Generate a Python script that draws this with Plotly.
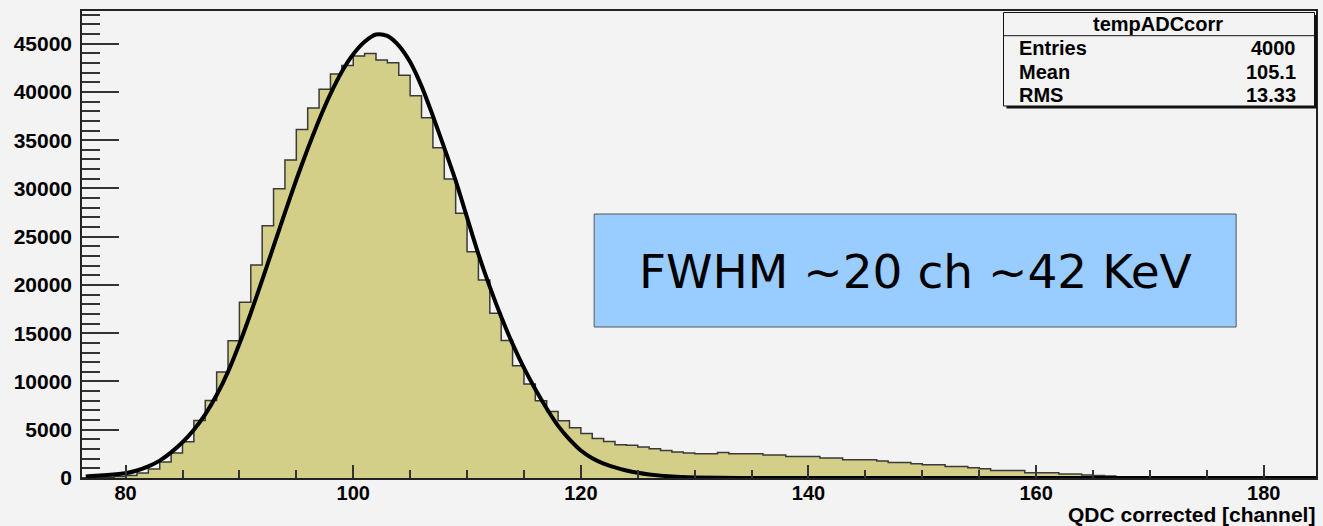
import plotly.graph_objects as go

# ---------------- data ----------------
channels = list(range(76, 167))          # lower bin edges, bin width 1 channel
counts = [20, 40, 80, 150, 270, 520, 930, 1650, 2590, 3760,
          5960, 8030, 10970, 14220, 18220, 22060, 26130, 29980, 32940, 36120,
          38330, 40290, 41860, 42730, 43720, 43990, 43300, 43020, 41740, 39600,
          37320, 34220, 30980, 27430, 23450, 20520, 17080, 14240, 11620, 9730,
          8000, 6890, 5940, 5200, 4600, 4090, 3770, 3450, 3400, 3200,
          3030, 2860, 2700, 2590, 2510, 2510, 2650, 2510, 2510, 2510,
          2380, 2380, 2240, 2240, 2240, 2070, 2070, 1890, 1890, 1890,
          1770, 1615, 1615, 1480, 1380, 1380, 1200, 1200, 1070, 960,
          790, 790, 790, 550, 550, 550, 410, 410, 300, 250, 200]
last_edge = 167

fit_x = [76.5, 78, 80, 81, 82, 83, 84, 85, 86, 87, 88, 89, 90, 91, 92, 93, 94, 95,
         96, 97, 98, 99, 100, 101, 102, 103, 104, 105, 106, 107, 108, 109, 110,
         111, 112, 113, 114, 115, 116, 117, 118, 119, 120, 121, 122, 123, 124,
         125, 126, 128, 130, 134, 140, 184.6]
fit_y = [150, 280, 500, 780, 1200, 1800, 2650, 3700, 5000, 6600, 8600, 11000, 13900,
         17100, 20500, 24000, 27500, 30900, 34100, 37100, 39800, 42100, 43900,
         45200, 45950, 45800, 44800, 43100, 40600, 37500, 34200, 30800, 27000,
         23200, 19800, 16700, 13900, 11400, 9200, 7200, 5400, 4000, 2850, 2050,
         1500, 1100, 780, 540, 370, 150, 60, 10, 0, 0]

stats_title = "tempADCcorr"
stats_labels = ["Entries", "Mean", "RMS"]
stats_values = ["4000", "105.1", "13.33"]
note_text = "FWHM ~20 ch ~42 KeV"
x_title = "QDC corrected [channel]"

# ---------------- figure ----------------
BG = "#f3f3f3"
FILL = "#d3cf88"
W, H = 1323, 526
L, R, T, B = 82, 5, 11, 48
PW, PH = W - L - R, H - T - B


def px_x(x):
    return (x - L) / PW


def px_y(y):
    return (H - B - y) / PH


fig = go.Figure()

fig.add_trace(go.Scatter(
    x=channels + [last_edge], y=counts + [0],
    mode="lines", line=dict(shape="hv", color="#3a3a3a", width=1.5),
    fill="tozeroy", fillcolor=FILL, hoverinfo="skip", showlegend=False))

fig.add_trace(go.Scatter(
    x=fit_x, y=fit_y, mode="lines",
    line=dict(shape="spline", smoothing=0.8, color="black", width=4),
    hoverinfo="skip", showlegend=False))

xtickfont = dict(family="Liberation Sans", size=20, color="black", weight="bold")
ytickfont = dict(family="Liberation Sans", size=21, color="black", weight="bold")

fig.update_layout(
    width=W, height=H,
    margin=dict(l=L, r=R, t=T, b=B, pad=0),
    paper_bgcolor=BG, plot_bgcolor=BG,
    showlegend=False,
    xaxis=dict(range=[76.17, 184.59], showgrid=False, zeroline=False,
               showline=True, linecolor="#222", linewidth=2, mirror=True,
               ticks="inside", ticklen=13, tickwidth=1.5, tickcolor="#333",
               tick0=80, dtick=20, tickfont=xtickfont, ticklabelstandoff=-4,
               minor=dict(ticks="inside", ticklen=8, dtick=5, tickwidth=1.5,
                          tickcolor="#333", showgrid=False)),
    yaxis=dict(range=[0, 48385], showgrid=False, zeroline=False,
               showline=True, linecolor="#222", linewidth=1.5, mirror=True,
               ticks="inside", ticklen=37, tickwidth=1.5, tickcolor="#333",
               tick0=0, dtick=5000, tickformat="d", tickfont=ytickfont,
               ticklabelstandoff=4,
               minor=dict(ticks="inside", ticklen=18, dtick=1000, tickwidth=1.5,
                          tickcolor="#333", showgrid=False)),
)

shapes = []
# FWHM box
shapes.append(dict(type="rect", xref="paper", yref="paper",
                   x0=px_x(595), x1=px_x(1238), y0=px_y(327), y1=px_y(214),
                   fillcolor="#99ccff", line=dict(color="#555", width=1)))
# stats box shadow + box
shapes.append(dict(type="rect", xref="paper", yref="paper",
                   x0=px_x(1008), x1=px_x(1319), y0=px_y(108.5), y1=px_y(15),
                   fillcolor="#111", line=dict(width=0)))
shapes.append(dict(type="rect", xref="paper", yref="paper",
                   x0=px_x(1005), x1=px_x(1316.5), y0=px_y(106), y1=px_y(12.5),
                   fillcolor=BG, line=dict(color="#111", width=1)))
shapes.append(dict(type="line", xref="paper", yref="paper",
                   x0=px_x(1005), x1=px_x(1316.5), y0=px_y(35.7), y1=px_y(35.7),
                   line=dict(color="#111", width=1)))
fig.update_layout(shapes=shapes)

sfont = dict(family="Liberation Sans", size=20, color="black", weight="bold")
ann = []
ann.append(dict(text=stats_title, xref="paper", yref="paper", x=px_x(1160), y=px_y(24),
                xanchor="center", yanchor="middle", showarrow=False, font=sfont))
for lab, val, yy in zip(stats_labels, stats_values, [48, 71.5, 94.5]):
    ann.append(dict(text=lab, xref="paper", yref="paper", x=px_x(1019), y=px_y(yy),
                    xanchor="left", yanchor="middle", showarrow=False, font=sfont))
    ann.append(dict(text=val, xref="paper", yref="paper", x=px_x(1300), y=px_y(yy),
                    xanchor="right", yanchor="middle", showarrow=False, font=sfont))
ann.append(dict(text=note_text, xref="paper", yref="paper", x=px_x(917), y=px_y(271),
                xanchor="center", yanchor="middle", showarrow=False,
                font=dict(family="DejaVu Sans", size=47, color="black")))
ann.append(dict(text=x_title, xref="paper", yref="paper", x=px_x(1319), y=px_y(514),
                xanchor="right", yanchor="middle", showarrow=False,
                font=dict(family="Liberation Sans", size=21, color="black", weight="bold")))
fig.update_layout(annotations=ann)

fig.write_html("out.html")
